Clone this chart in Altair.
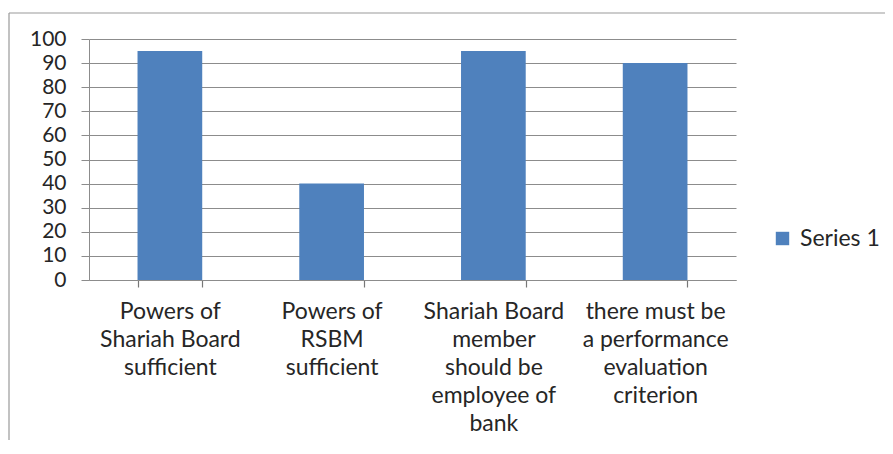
import altair as alt
import pandas as pd

categories = [
    "Powers of|Shariah Board|sufficient",
    "Powers of|RSBM|sufficient",
    "Shariah Board|member|should be|employee of|bank",
    "there must be|a performance|evaluation|criterion",
]
values = [95, 40, 95, 90]
series = ["Series 1"] * 4
y_ticks = list(range(0, 101, 10))

df = pd.DataFrame({"category": categories, "value": values, "series": series})

FONT = "Lato"
GRID = "#8c8c8c"
TEXT = "#262626"
FS = 23

bars = alt.Chart(df).mark_bar().encode(
    x=alt.X(
        "category:N",
        sort=categories,
        scale=alt.Scale(paddingInner=0.6, paddingOuter=0.3),
        axis=alt.Axis(
            title=None, labelAngle=0,
            labelExpr="isValid(datum.value) ? split(datum.value, '|') : ''",
            tickBand="extent", tickSize=7, tickColor="#777777", domainColor=GRID,
            ticks=True, tickWidth=1.2,
            labelPadding=13, labelBaseline="top", labelLineHeight=28,
            labelFontSize=FS, labelFont=FONT, labelColor=TEXT,
            labelOverlap=False, labelBound=False, labelLimit=300, grid=False,
        ),
    ),
    y=alt.Y(
        "value:Q",
        scale=alt.Scale(domain=[0, 100]),
        axis=alt.Axis(
            title=None, values=y_ticks, tickSize=8, tickColor=GRID,
            domainColor=GRID, gridColor=GRID, grid=True, labelPadding=15,
            labelFontSize=21, labelFont=FONT, labelColor=TEXT,
            labelOverlap=False,
        ),
    ),
    color=alt.Color(
        "series:N",
        scale=alt.Scale(range=["#4F81BD"]),
        legend=alt.Legend(
            title=None, orient="none", legendX=682, legendY=188,
            symbolType="square", symbolSize=180, symbolStrokeWidth=0,
            labelFontSize=FS, labelFont=FONT, labelColor=TEXT, labelOffset=6,
        ),
    ),
)

border_top = alt.Chart(pd.DataFrame({"a": [0]})).mark_rule(color="#999999", strokeWidth=1.2).encode(
    x=alt.value(-80), x2=alt.value(800), y=alt.value(-26)
)
border_left = alt.Chart(pd.DataFrame({"a": [0]})).mark_rule(color="#999999", strokeWidth=1.2).encode(
    x=alt.value(-80), y=alt.value(-26), y2=alt.value(420)
)

chart = alt.layer(border_top, border_left, bars).properties(
    width=647, height=241,
    autosize=alt.AutoSizeParams(type="none"),
    padding={"left": 81, "top": 31, "right": 149, "bottom": 160},
).configure_view(stroke=None)

chart.save("out.html", embed_options={"renderer": "svg", "actions": False})
